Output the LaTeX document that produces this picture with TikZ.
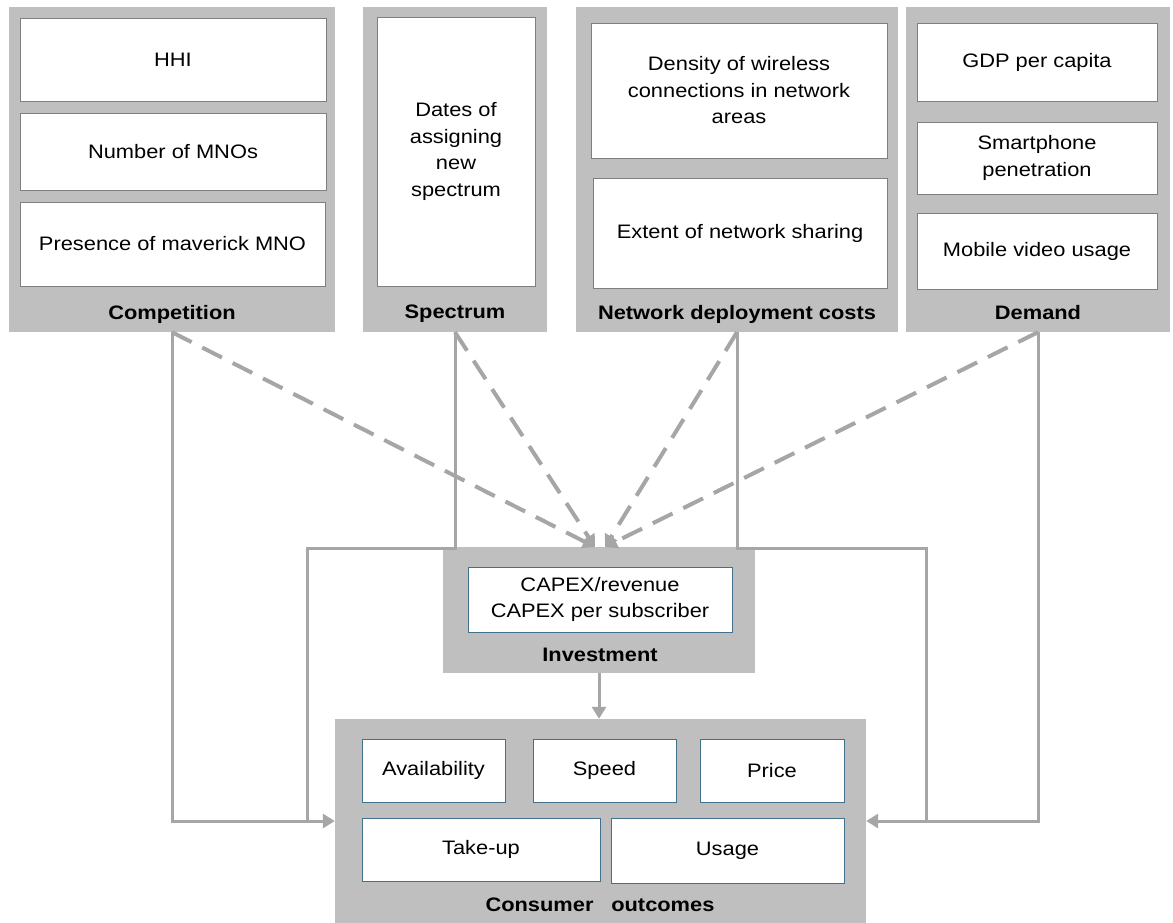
\documentclass[tikz,border=0pt]{standalone}
\usepackage{fontspec}
\setmainfont{Liberation Sans}[FakeStretch=1.12]
\usetikzlibrary{arrows.meta}
\definecolor{panelgray}{HTML}{BFBFBF}
\definecolor{linegray}{HTML}{A6A6A6}
\definecolor{boxedge}{HTML}{7F7F7F}
\definecolor{blueedge}{HTML}{41718C}
\tikzset{
  panel/.style={fill=panelgray, draw=none, inner sep=0pt},
  item/.style={fill=white, draw=boxedge, line width=0.9pt, align=center, inner sep=0pt, font=\fontsize{19.5}{26.5}\selectfont},
  bitem/.style={item, draw=blueedge},
  plabel/.style={font=\fontsize{19.5}{23}\selectfont\bfseries, inner sep=0pt},
  conn/.style={draw=linegray, line width=3pt},
  dconn/.style={draw=linegray, line width=4pt, dash pattern=on 22pt off 12pt},
  tip/.style={-{Triangle[length=12pt,width=14pt]}},
}
\begin{document}
\begin{tikzpicture}[x=1pt,y=-1pt]
\useasboundingbox (0,0) rectangle (1173,923);
% panels
\node[panel, minimum width=326pt, minimum height=325pt] (comp) at (172,169.5) {};
\node[panel, minimum width=184pt, minimum height=325pt] (spec) at (455,169.5) {};
\node[panel, minimum width=322pt, minimum height=325pt] (net) at (737,169.5) {};
\node[panel, minimum width=264pt, minimum height=325pt] (dem) at (1038,169.5) {};
\node[panel, minimum width=312pt, minimum height=126pt] (inv) at (599,610) {};
\node[panel, minimum width=531pt, minimum height=204pt] (cons) at (600.5,821) {};
% competition
\node[item, minimum width=306pt, minimum height=83pt] (hhi) at (173,59.5) {HHI};
\node[item, minimum width=306pt, minimum height=77pt] (nmno) at (173,151.5) {Number of MNOs};
\node[item, minimum width=305pt, minimum height=84pt] (pmav) at (172.5,244) {Presence of maverick MNO};
\node[plabel] (compl) at (172,314) {Competition};
% spectrum
\node[item, minimum width=158pt, minimum height=269pt] (dates) at (456,151.5) {Dates of\\assigning\\new\\spectrum};
\node[plabel] (specl) at (455,314) {Spectrum};
% network
\node[item, minimum width=296pt, minimum height=135pt] (dens) at (739,90.5) {Density of wireless\\connections in network\\areas};
\node[item, minimum width=294pt, minimum height=110pt] (share) at (740,233) {Extent of network sharing};
\node[plabel] (netl) at (737,314) {Network deployment costs};
% demand
\node[item, minimum width=240pt, minimum height=78pt] (gdp) at (1037,62) {GDP per capita};
\node[item, minimum width=240pt, minimum height=72pt] (smart) at (1037,158) {Smartphone\\penetration};
\node[item, minimum width=240pt, minimum height=76pt] (video) at (1037,251) {Mobile video usage};
\node[plabel] (deml) at (1038,313) {Demand};
% investment
\node[bitem, minimum width=264pt, minimum height=65pt] (capex) at (600,599.5) {CAPEX/revenue\\CAPEX per subscriber};
\node[plabel] (invl) at (600,655) {Investment};
% consumer outcomes
\node[bitem, minimum width=143pt, minimum height=63pt] (avail) at (433.5,770.5) {Availability};
\node[bitem, minimum width=143pt, minimum height=63pt] (speed) at (604.5,770.5) {Speed};
\node[bitem, minimum width=144pt, minimum height=63pt] (price) at (772,770.5) {Price};
\node[bitem, minimum width=238pt, minimum height=63pt] (take) at (481,849.5) {Take-up};
\node[bitem, minimum width=233pt, minimum height=65pt] (usage) at (727.5,850.5) {Usage};
\node[plabel] (consl) at (600,905) {Consumer\hspace{0.6em} outcomes};
% connector helpers
\coordinate (sl) at (307,548);
\coordinate (nr) at (926,548);
\coordinate (invl1) at (595,547);
\coordinate (invr1) at (605,547);
% dashed connectors to investment
\draw[dconn, tip] (comp.south) -- (invl1);
\draw[dconn, tip] (spec.south) -- (invl1);
\draw[dconn, tip] (net.south) -- (invr1);
\draw[dconn, tip] (dem.south) -- (invr1);
% solid connectors to consumer outcomes
\draw[conn, tip] (comp.south) |- (cons.west);
\draw[conn] (spec.south) |- (sl) -- (sl |- cons.west);
\draw[conn, tip] (dem.south) |- (cons.east);
\draw[conn] (net.south) |- (nr) -- (nr |- cons.east);
\draw[conn, tip] (inv.south) -- (inv.south |- cons.north);
\end{tikzpicture}
\end{document}
